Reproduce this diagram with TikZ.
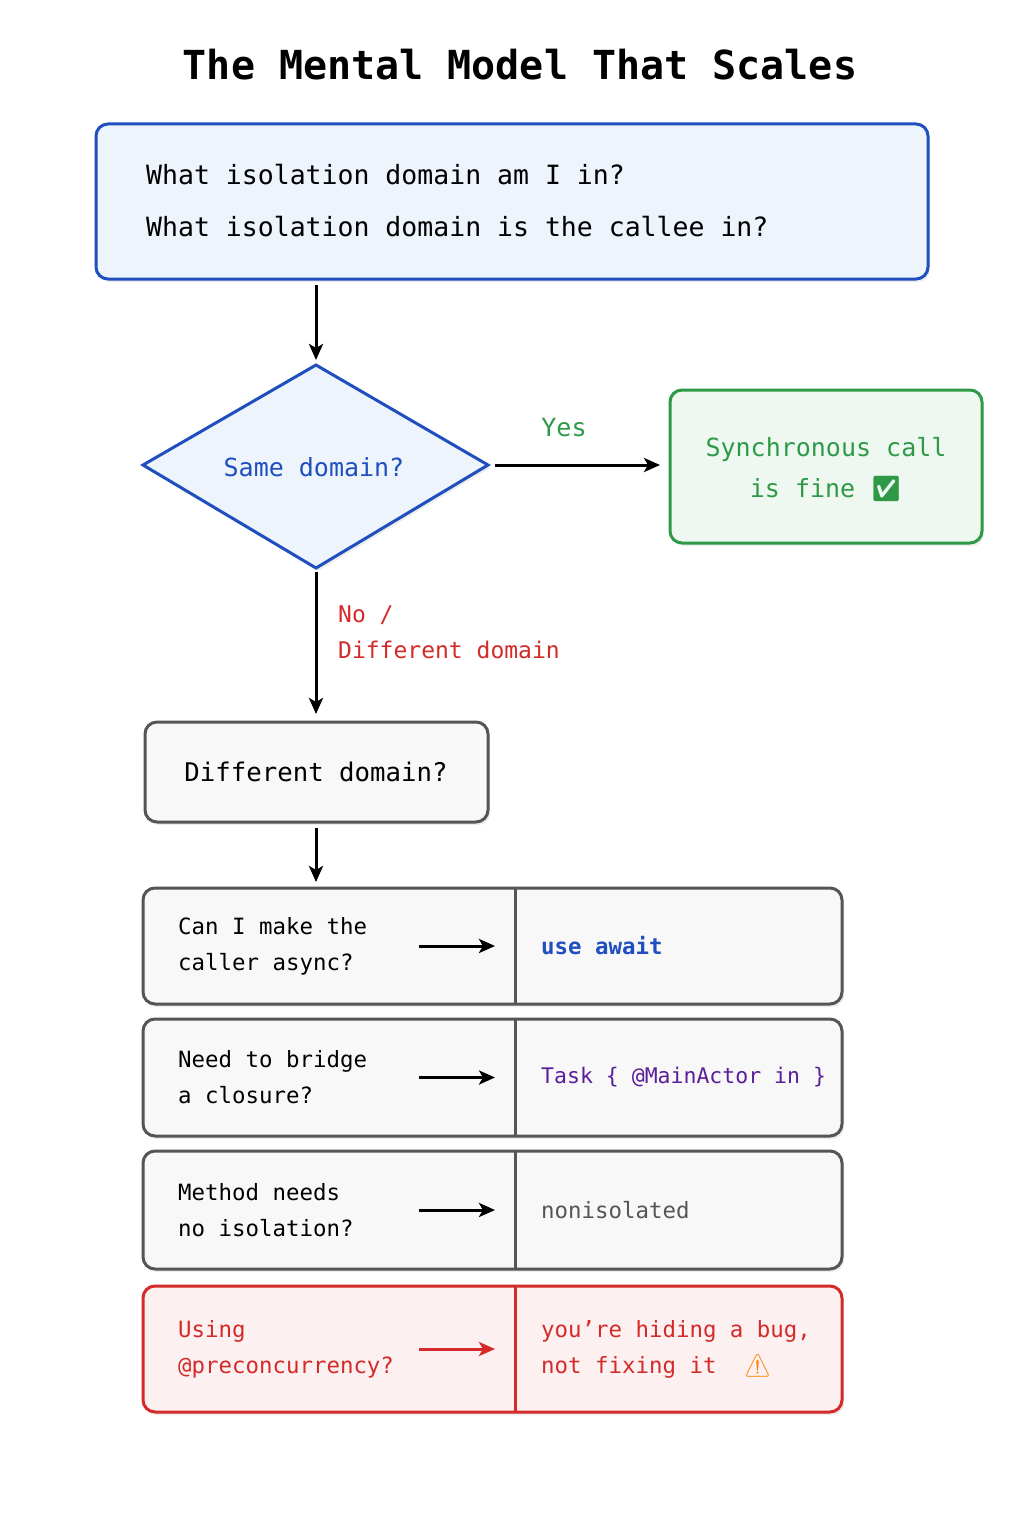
\documentclass[tikz,border=0pt]{standalone}
\usepackage{fontspec}
\setmonofont{DejaVu Sans Mono}
\newfontfamily\emo{Noto Emoji}
\usetikzlibrary{arrows.meta,shadows}
\definecolor{bblue}{HTML}{1F4FBF}
\definecolor{lblue}{HTML}{EEF4FC}
\definecolor{ggreen}{HTML}{2E9A48}
\definecolor{lgreen}{HTML}{EEF8F0}
\definecolor{rred}{HTML}{D42A2A}
\definecolor{lred}{HTML}{FDF0F0}
\definecolor{gbord}{HTML}{555555}
\definecolor{lgray}{HTML}{F8F8F8}
\definecolor{purp}{HTML}{5B1E9A}
\tikzset{
  box/.style={draw, line width=3pt, rounded corners=12pt, drop shadow={opacity=0.15,shadow xshift=2pt,shadow yshift=-3pt}},
  arr/.style={-{Stealth[length=16pt,width=14pt,inset=4pt]}, line width=3pt},
  txt/.style={font=\ttfamily\fontsize{22}{28}\selectfont, align=left, inner sep=0pt},
}
\begin{document}
\begin{tikzpicture}[x=1pt,y=-1pt]
\useasboundingbox[fill=white] (0,0) rectangle (1024,1536);
\node[font=\ttfamily\bfseries\fontsize{40}{48}\selectfont] (title) at (520,65) {The Mental Model That Scales};
% top box
\draw[box, draw=bblue, fill=lblue] (96,124) rectangle (928,279);
\node[txt, anchor=west, font=\ttfamily\fontsize{26.5}{32}\selectfont] (q1) at (146,175) {What isolation domain am I in?};
\node[txt, anchor=west, font=\ttfamily\fontsize{26.5}{32}\selectfont] (q2) at (146,227) {What isolation domain is the callee in?};
\coordinate (tb) at (316,285);
\coordinate (dtop) at (316,360);
\draw[arr] (tb) -- (dtop);
% diamond
\draw[line width=3pt, draw=bblue, fill=lblue, drop shadow={opacity=0.15,shadow xshift=2pt,shadow yshift=-3pt}] (143,465) -- (316,365) -- (488,465) -- (316,568) -- cycle;
\node[txt, text=bblue, font=\ttfamily\fontsize{25}{30}\selectfont] (same) at (314,467) {Same domain?};
\coordinate (dr) at (495,465);
\coordinate (dbot) at (316,572);
% green box
\draw[box, draw=ggreen, fill=lgreen] (670,390) rectangle (982,543);
\node[txt, text=ggreen, align=center, font=\ttfamily\fontsize{25}{41}\selectfont] (sync) at (826,470) {Synchronous call\\is fine {\emo\textcolor{ggreen}{✅}}};
\coordinate (gl) at (660,465);
\draw[arr] (dr) -- (gl);
\node[txt, text=ggreen, font=\ttfamily\fontsize{25}{30}\selectfont] (yes) at (564,428) {Yes};
% no arrow
\coordinate (dft) at (316,714);
\draw[arr] (dbot) -- (dft);
\node[txt, text=rred, anchor=north west, font=\ttfamily\fontsize{23}{36}\selectfont] (no) at (338,606) {No /\\Different domain};
% different domain box
\draw[box, draw=gbord, fill=lgray] (145,722) rectangle (488,822);
\node[txt, font=\ttfamily\fontsize{25.7}{30}\selectfont] (diff) at (316,772) {Different domain?};
\coordinate (db) at (316,828);
\coordinate (r1t) at (316,882);
\draw[arr] (db) -- (r1t);
% rows
\foreach \yt/\yb/\bc/\fc/\ac/\lt/\rt/\rc [count=\i] in {
  888/1004/gbord/lgray/black/{Can I make the\\caller async?}/{\bfseries use await}/bblue,
  1019/1136/gbord/lgray/black/{Need to bridge\\a closure?}/{Task \{ @MainActor in \}}/purp,
  1151/1269/gbord/lgray/black/{Method needs\\no isolation?}/{nonisolated}/gbord,
  1286/1412/rred/lred/rred/{Using\\@preconcurrency?}/{you’re hiding a bug,\\not fixing it\ \ {\emo\textcolor{orange}{⚠}}}/rred}{
  \draw[box, draw=\bc, fill=\fc] (143,\yt) rectangle (842,\yb);
  \draw[line width=3pt, draw=\bc] (515,\yt) -- (515,\yb);
  \pgfmathsetmacro{\ym}{(\yt+\yb)/2}
  \ifnum\i=4 \def\tc{rred}\else\def\tc{black}\fi
  \node[txt, anchor=west, text=\tc, font=\ttfamily\fontsize{22.4}{36}\selectfont] (l\i) at (178,\ym) {\lt};
  \ifnum\i=2
  \node[txt, anchor=west, text=\rc, font=\ttfamily\fontsize{21.5}{36}\selectfont] (r\i) at (541,\ym) {\rt};
  \else
  \node[txt, anchor=west, text=\rc, font=\ttfamily\fontsize{22.4}{36}\selectfont] (r\i) at (541,\ym) {\rt};
  \fi
  \coordinate (as\i) at (419,\ym);
  \coordinate (ae\i) at (495,\ym);
  \draw[arr, draw=\ac, fill=\ac] (as\i) -- (ae\i);
}
\end{tikzpicture}
\end{document}
